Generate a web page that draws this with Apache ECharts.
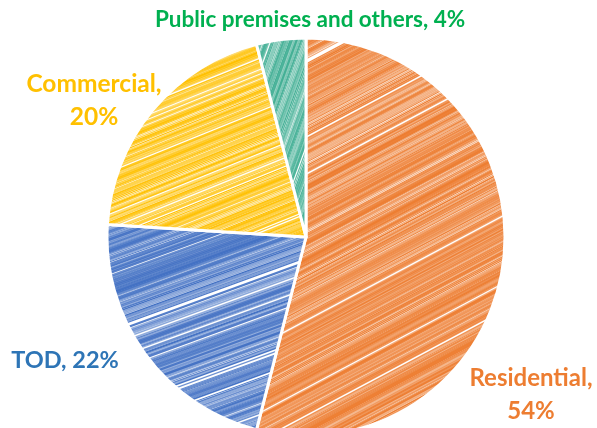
<!DOCTYPE html>
<html>
<head>
<meta charset="utf-8">
<script src="https://cdn.jsdelivr.net/npm/echarts@6/dist/echarts.min.js"></script>
<style>
  html, body { margin: 0; padding: 0; background: #fff; }
  #chart { width: 597px; height: 428px; }
</style>
</head>
<body>
<div id="chart"></div>
<script>
// Land use shares (%)
const categories = ['Residential', 'TOD', 'Commercial', 'Public premises and others'];
const shares = [54, 22, 20, 4];
const sliceColors = ['#ED7D31', '#4472C4', '#FFC000', '#45B096'];
const labelColors = ['#ED7D31', '#2E75B6', '#FFC000', '#00B050'];
const hatchAngles = [28, 20, 22, 70];
// label anchor points, sizes and line breaks
const labelSpots = [[531, 395], [65, 360], [94, 101], [310, 20]];
const labelSizes = [24, 23.5, 24.5, 22.5];
const labelBreak = [true, false, true, false];

// Pencil-like hatching texture for each slice
function hatch(color, angleDeg, seed) {
  const c = document.createElement('canvas');
  c.width = 600; c.height = 430;
  const g = c.getContext('2d');
  g.fillStyle = '#ffffff';
  g.fillRect(0, 0, c.width, c.height);
  g.save();
  g.translate(300, 215);
  g.rotate(-angleDeg * Math.PI / 180);
  g.strokeStyle = color;
  const hash = (v) => { const s = Math.sin(v * 12.9898 + seed * 78.233) * 43758.5453; return s - Math.floor(s); };
  for (let o = -450, k = 0; o < 450; o += 1.5, k++) {
    const h1 = hash(k), h2 = hash(k + 1000);
    if (h1 < 0.07) continue;
    g.globalAlpha = 0.55 + 0.45 * h2;
    g.lineWidth = 0.8 + 1.8 * h1;
    g.beginPath();
    g.moveTo(-600, o);
    g.lineTo(600, o);
    g.stroke();
  }
  g.restore();
  return c;
}

const pieData = categories.map((name, i) => ({
  name: name,
  value: shares[i],
  itemStyle: { color: { image: hatch(sliceColors[i], hatchAngles[i], i + 1), repeat: 'repeat' } },
  label: { color: labelColors[i], fontSize: labelSizes[i] }
}));

const chart = echarts.init(document.getElementById('chart'), null, { renderer: 'canvas' });
chart.setOption({
  animation: false,
  series: [{
    type: 'pie',
    center: [306, 237],
    radius: 199,
    startAngle: 90,
    clockwise: true,
    data: pieData,
    itemStyle: { borderColor: '#ffffff', borderWidth: 3 },
    label: {
      show: true,
      position: 'inside',
      overflow: 'none',
      fontFamily: 'Lato',
      fontWeight: 'bold',
      lineHeight: 33,
      align: 'center',
      formatter: (p) => p.name + ',' + (labelBreak[p.dataIndex] ? '\n' : ' ') + p.value + '%'
    },
    labelLine: { show: false },
    labelLayout: (p) => ({
      x: labelSpots[p.dataIndex][0],
      y: labelSpots[p.dataIndex][1],
      align: 'center',
      verticalAlign: 'middle'
    }),
    emphasis: { disabled: true }
  }]
});
</script>
</body>
</html>
